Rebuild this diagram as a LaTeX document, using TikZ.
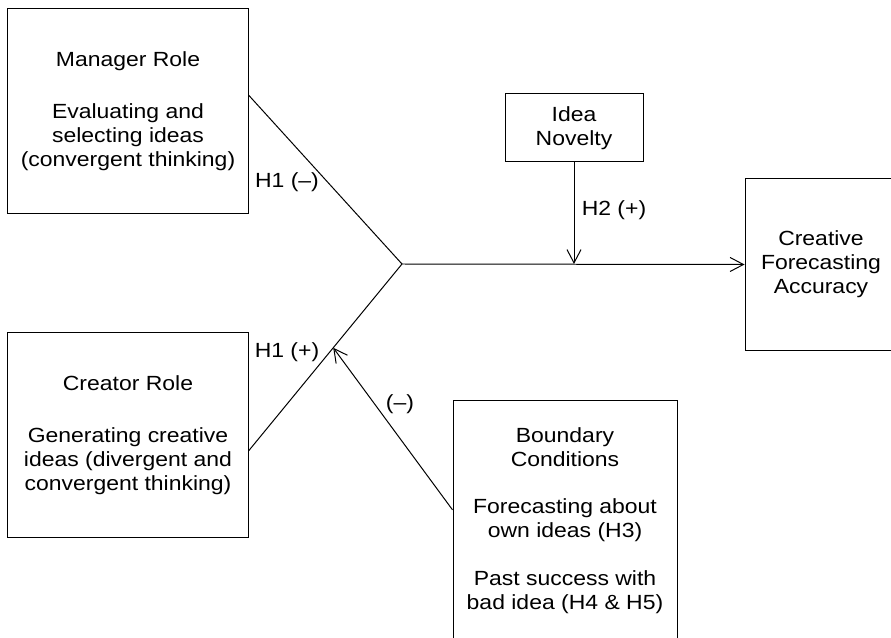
\documentclass[tikz,border=0pt]{standalone}
\usepackage{fontspec}
\setmainfont{Liberation Sans}[FakeStretch=1.12]
\usetikzlibrary{arrows.meta,calc}

\begin{document}
\begin{tikzpicture}[x=0.03cm,y=0.03cm,>={Straight Barb[length=0.4cm,width=0.42cm]},
  line width=0.85pt,
  box/.style={draw,align=center,inner sep=0pt,font=\fontsize{17.5}{20.5}\selectfont},
  lbl/.style={font=\fontsize{17.5}{20.5}\selectfont}]
  \useasboundingbox (0,0) rectangle (891,637);
  \clip (0,0) rectangle (891,637);
  % the two roles
  \node[box,minimum width=7.2cm,minimum height=6.12cm] (mgr) at (128,526)
    {Manager Role\\[24pt]Evaluating and\\selecting ideas\\(convergent thinking)};
  \node[box,minimum width=7.2cm,minimum height=6.12cm] (crt) at (128,202)
    {Creator Role\\[24pt]Generating creative\\ideas (divergent and\\convergent thinking)};
  % moderators and outcome
  \node[box,minimum width=4.14cm,minimum height=2.04cm] (nov) at (574,509) {Idea\\Novelty};
  \node[box,minimum width=4.56cm,minimum height=5.13cm] (acc) at (821,372.5)
    {Creative\\Forecasting\\Accuracy};
  \node[box,minimum width=6.72cm,minimum height=7.17cm] (bnd) at (565,116.5)
    {Boundary\\Conditions\\[20pt]Forecasting about\\own ideas (H3)\\[20pt]Past success with\\bad idea (H4 \& H5)};
  % paths
  \coordinate (jn) at (402,373);
  \coordinate (crtout) at ([yshift=-0.48cm]crt.east);
  \draw ([yshift=0.48cm]mgr.east) -- (jn);
  \draw (crtout) -- (jn);
  \draw[->] (jn) -- (acc.west);
  \draw[->] (nov.south) -- (nov.south |- jn);
  \coordinate (hit) at ($(jn)!0.448!(crtout)$);
  \draw[->] ([yshift=0.32cm]bnd.west) -- (hit);
  % labels
  \node[lbl] (hmin) at (287,455) {H1 (–)};
  \node[lbl] (hplus) at (287,285) {H1 (+)};
  \node[lbl] (bmin) at (400,233) {(–)};
  \node[lbl] (htwo) at (614,427) {H2 (+)};
\end{tikzpicture}
\end{document}
